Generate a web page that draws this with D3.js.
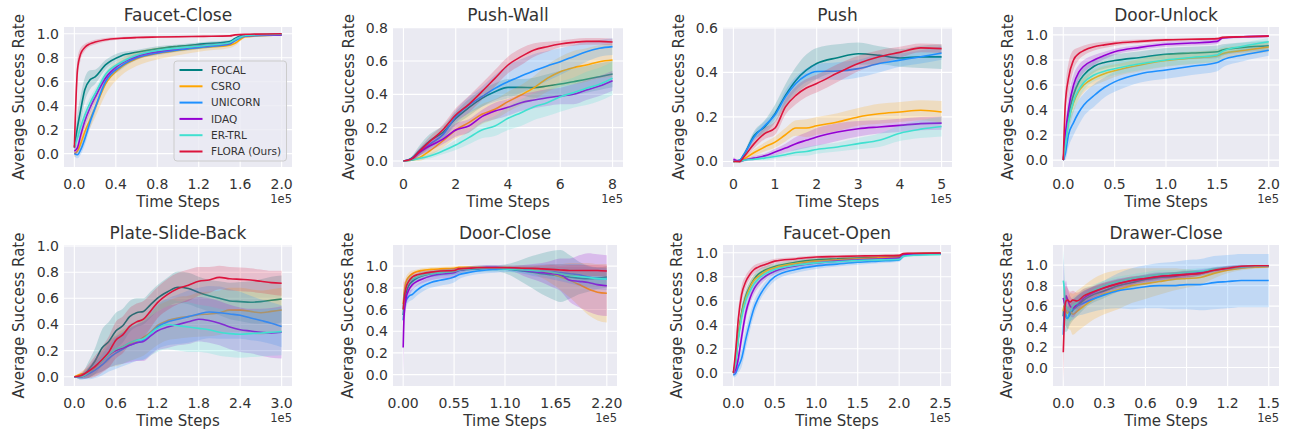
<!DOCTYPE html>
<html>
<head>
<meta charset="utf-8">
<script src="https://cdnjs.cloudflare.com/ajax/libs/d3/7.8.5/d3.min.js"></script>
<style>
  html, body { margin: 0; padding: 0; background: #fff; }
  svg { display: block; font-family: "DejaVu Sans", sans-serif; }
  text { fill: #333333; }
</style>
</head>
<body>
<svg id="chart" width="1293" height="432"></svg>
<script>
// methods and their colours
var methods = ["FOCAL", "CSRO", "UNICORN", "IDAQ", "ER-TRL", "FLORA (Ours)"];
var colors = ["#008080", "#FFA500", "#1E90FF", "#9400D3", "#40E0D0", "#DC143C"];

// Faucet-Close (x in 1e5 steps); rows follow `methods`
var fcX = [0, 0.03, 0.06, 0.1, 0.15, 0.2, 0.3, 0.45, 0.6, 0.8, 1.0, 1.25, 1.5, 1.55, 1.65, 2.0];
var fcMean = [
  [0.05, 0.22, 0.36, 0.53, 0.615, 0.64, 0.74, 0.815, 0.845, 0.875, 0.895, 0.915, 0.935, 0.96, 0.99, 0.995],
  [0.0, 0.02, 0.08, 0.18, 0.28, 0.38, 0.58, 0.72, 0.79, 0.835, 0.86, 0.885, 0.905, 0.92, 0.975, 0.99],
  [0.0, -0.01, 0.03, 0.12, 0.26, 0.38, 0.6, 0.73, 0.8, 0.84, 0.865, 0.89, 0.915, 0.94, 0.98, 0.99],
  [0.02, 0.05, 0.15, 0.27, 0.38, 0.47, 0.63, 0.75, 0.81, 0.85, 0.875, 0.9, 0.92, 0.95, 0.985, 0.99],
  [0.06, 0.13, 0.22, 0.32, 0.42, 0.5, 0.66, 0.76, 0.82, 0.86, 0.88, 0.9, 0.925, 0.95, 0.985, 0.995],
  [0.05, 0.7, 0.83, 0.885, 0.915, 0.93, 0.95, 0.962, 0.968, 0.972, 0.975, 0.978, 0.982, 0.99, 0.995, 1.0]
];
var fcStd = [
  [0.05, 0.12, 0.12, 0.1, 0.08, 0.06, 0.04, 0.03, 0.02, 0.02, 0.015, 0.015, 0.012, 0.01, 0.008, 0.005],
  [0.03, 0.03, 0.05, 0.06, 0.07, 0.08, 0.09, 0.07, 0.06, 0.05, 0.04, 0.03, 0.025, 0.02, 0.01, 0.008],
  [0.02, 0.03, 0.04, 0.05, 0.05, 0.04, 0.03, 0.03, 0.02, 0.02, 0.015, 0.015, 0.012, 0.01, 0.01, 0.008],
  [0.03, 0.04, 0.05, 0.05, 0.05, 0.04, 0.03, 0.025, 0.02, 0.02, 0.015, 0.015, 0.012, 0.01, 0.01, 0.008],
  [0.04, 0.05, 0.06, 0.06, 0.05, 0.04, 0.03, 0.025, 0.02, 0.02, 0.015, 0.015, 0.012, 0.01, 0.01, 0.008],
  [0.1, 0.1, 0.05, 0.03, 0.02, 0.02, 0.015, 0.01, 0.01, 0.008, 0.008, 0.006, 0.005, 0.005, 0.004, 0.003]
];

// Push-Wall
var pwX = [0, 0.3, 0.6, 1.0, 1.5, 2, 2.5, 3, 3.5, 4, 4.5, 5, 5.5, 6, 6.5, 7, 7.5, 8];
var pwMean = [
  [0, 0.015, 0.06, 0.12, 0.17, 0.255, 0.32, 0.376, 0.416, 0.442, 0.442, 0.44, 0.45, 0.462, 0.476, 0.49, 0.506, 0.522],
  [0, 0.005, 0.02, 0.06, 0.12, 0.186, 0.23, 0.28, 0.31, 0.356, 0.396, 0.44, 0.496, 0.536, 0.56, 0.576, 0.596, 0.606],
  [0, 0.01, 0.05, 0.1, 0.156, 0.266, 0.336, 0.386, 0.436, 0.476, 0.51, 0.542, 0.57, 0.596, 0.626, 0.656, 0.676, 0.686],
  [0, 0.01, 0.05, 0.09, 0.13, 0.186, 0.21, 0.266, 0.3, 0.322, 0.35, 0.366, 0.38, 0.39, 0.4, 0.426, 0.45, 0.482],
  [0, 0.005, 0.015, 0.03, 0.06, 0.096, 0.14, 0.186, 0.21, 0.256, 0.29, 0.326, 0.35, 0.386, 0.41, 0.436, 0.46, 0.496],
  [0, 0.01, 0.056, 0.116, 0.186, 0.276, 0.34, 0.416, 0.496, 0.576, 0.626, 0.666, 0.686, 0.702, 0.712, 0.718, 0.718, 0.714]
];
var pwStd = [
  [0, 0.01, 0.03, 0.04, 0.04, 0.04, 0.05, 0.05, 0.05, 0.05, 0.05, 0.06, 0.07, 0.08, 0.08, 0.08, 0.08, 0.08],
  [0, 0.005, 0.02, 0.03, 0.04, 0.05, 0.06, 0.06, 0.06, 0.06, 0.06, 0.07, 0.08, 0.09, 0.1, 0.1, 0.1, 0.1],
  [0, 0.01, 0.02, 0.03, 0.03, 0.04, 0.05, 0.06, 0.08, 0.1, 0.1, 0.1, 0.09, 0.08, 0.07, 0.06, 0.05, 0.05],
  [0, 0.01, 0.02, 0.03, 0.03, 0.04, 0.04, 0.04, 0.05, 0.05, 0.05, 0.05, 0.05, 0.05, 0.06, 0.06, 0.06, 0.06],
  [0, 0.005, 0.01, 0.015, 0.02, 0.03, 0.04, 0.05, 0.06, 0.07, 0.08, 0.08, 0.08, 0.09, 0.09, 0.1, 0.1, 0.1],
  [0, 0.01, 0.02, 0.03, 0.03, 0.04, 0.05, 0.05, 0.05, 0.05, 0.05, 0.04, 0.03, 0.02, 0.02, 0.02, 0.02, 0.02]
];

// Push
var puX = [0, 0.15, 0.25, 0.5, 0.75, 1.0, 1.25, 1.5, 1.75, 2, 2.5, 3, 3.5, 4, 4.5, 5];
var puMean = [
  [0, 0.005, 0.03, 0.117, 0.155, 0.215, 0.297, 0.364, 0.41, 0.44, 0.466, 0.484, 0.477, 0.465, 0.47, 0.47],
  [0, 0, 0.01, 0.04, 0.065, 0.087, 0.12, 0.15, 0.15, 0.16, 0.177, 0.2, 0.214, 0.222, 0.23, 0.222],
  [0, 0.005, 0.03, 0.11, 0.16, 0.21, 0.29, 0.35, 0.387, 0.404, 0.406, 0.417, 0.44, 0.455, 0.47, 0.487],
  [0.01, 0, 0.005, 0.015, 0.025, 0.042, 0.06, 0.08, 0.095, 0.11, 0.132, 0.147, 0.155, 0.162, 0.17, 0.172],
  [0, 0, 0.005, 0.01, 0.015, 0.022, 0.03, 0.04, 0.045, 0.054, 0.065, 0.08, 0.095, 0.127, 0.145, 0.157],
  [0, 0, 0.02, 0.08, 0.125, 0.15, 0.245, 0.297, 0.33, 0.35, 0.397, 0.44, 0.47, 0.49, 0.51, 0.507]
];
var puStd = [
  [0, 0.005, 0.01, 0.02, 0.03, 0.04, 0.05, 0.06, 0.07, 0.07, 0.06, 0.05, 0.04, 0.04, 0.05, 0.055],
  [0, 0.005, 0.01, 0.015, 0.02, 0.025, 0.03, 0.035, 0.04, 0.04, 0.04, 0.04, 0.045, 0.045, 0.045, 0.05],
  [0, 0.005, 0.01, 0.02, 0.02, 0.02, 0.03, 0.03, 0.03, 0.035, 0.04, 0.04, 0.04, 0.03, 0.03, 0.03],
  [0.01, 0.005, 0.005, 0.01, 0.01, 0.015, 0.02, 0.03, 0.035, 0.04, 0.04, 0.035, 0.03, 0.03, 0.03, 0.03],
  [0, 0, 0.005, 0.005, 0.01, 0.01, 0.01, 0.015, 0.02, 0.02, 0.02, 0.025, 0.03, 0.035, 0.04, 0.045],
  [0, 0.005, 0.01, 0.02, 0.025, 0.03, 0.035, 0.04, 0.04, 0.04, 0.04, 0.035, 0.03, 0.025, 0.02, 0.02]
];

// Door-Unlock
var duX = [0, 0.02, 0.05, 0.1, 0.15, 0.2, 0.3, 0.4, 0.5, 0.75, 1.0, 1.25, 1.5, 1.55, 1.75, 2.0];
var duMean = [
  [0, 0.15, 0.35, 0.52, 0.62, 0.68, 0.75, 0.78, 0.795, 0.82, 0.845, 0.855, 0.865, 0.88, 0.9, 0.913],
  [0, 0.12, 0.3, 0.46, 0.55, 0.6, 0.655, 0.69, 0.714, 0.76, 0.795, 0.815, 0.833, 0.85, 0.875, 0.903],
  [0, 0.05, 0.2, 0.3, 0.38, 0.44, 0.516, 0.58, 0.625, 0.69, 0.72, 0.75, 0.78, 0.8, 0.84, 0.878],
  [0, 0.2, 0.4, 0.6, 0.7, 0.75, 0.8, 0.835, 0.865, 0.9, 0.925, 0.935, 0.948, 0.975, 0.985, 0.99],
  [0, 0.12, 0.3, 0.47, 0.56, 0.62, 0.68, 0.71, 0.73, 0.77, 0.8, 0.82, 0.84, 0.87, 0.91, 0.945],
  [0, 0.45, 0.65, 0.8, 0.85, 0.875, 0.905, 0.92, 0.932, 0.948, 0.96, 0.965, 0.97, 0.98, 0.985, 0.99]
];
var duStd = [
  [0, 0.05, 0.08, 0.08, 0.07, 0.06, 0.05, 0.05, 0.05, 0.05, 0.05, 0.05, 0.05, 0.045, 0.04, 0.04],
  [0, 0.05, 0.08, 0.08, 0.07, 0.06, 0.06, 0.06, 0.05, 0.05, 0.05, 0.05, 0.05, 0.045, 0.04, 0.04],
  [0, 0.05, 0.1, 0.1, 0.1, 0.09, 0.09, 0.08, 0.08, 0.07, 0.07, 0.07, 0.07, 0.06, 0.05, 0.045],
  [0, 0.08, 0.1, 0.08, 0.06, 0.05, 0.04, 0.03, 0.025, 0.02, 0.02, 0.02, 0.02, 0.01, 0.01, 0.01],
  [0, 0.05, 0.08, 0.08, 0.07, 0.06, 0.05, 0.05, 0.05, 0.05, 0.05, 0.05, 0.05, 0.04, 0.03, 0.03],
  [0, 0.1, 0.12, 0.08, 0.05, 0.04, 0.03, 0.025, 0.02, 0.015, 0.012, 0.01, 0.01, 0.008, 0.006, 0.005]
];

// Plate-Slide-Back
var psX = [0, 0.1, 0.2, 0.3, 0.4, 0.5, 0.6, 0.7, 0.8, 0.9, 1.0, 1.1, 1.2, 1.35, 1.5, 1.65, 1.8, 1.95, 2.1, 2.25, 2.4, 2.55, 2.7, 2.85, 3.0];
var psMean = [
  [0, 0, 0.05, 0.12, 0.22, 0.27, 0.35, 0.39, 0.46, 0.49, 0.5, 0.55, 0.6, 0.65, 0.685, 0.675, 0.645, 0.62, 0.6, 0.58, 0.575, 0.57, 0.575, 0.585, 0.595],
  [0, 0.02, 0.03, 0.07, 0.12, 0.17, 0.2, 0.23, 0.25, 0.27, 0.3, 0.34, 0.39, 0.43, 0.45, 0.46, 0.475, 0.48, 0.49, 0.51, 0.51, 0.5, 0.49, 0.5, 0.51],
  [0, 0, 0.02, 0.05, 0.09, 0.14, 0.18, 0.21, 0.24, 0.26, 0.28, 0.33, 0.38, 0.42, 0.44, 0.46, 0.48, 0.495, 0.49, 0.48, 0.47, 0.45, 0.43, 0.41, 0.385],
  [0, 0, 0.03, 0.08, 0.12, 0.17, 0.2, 0.22, 0.24, 0.26, 0.27, 0.31, 0.35, 0.38, 0.4, 0.42, 0.44, 0.43, 0.41, 0.38, 0.36, 0.35, 0.34, 0.335, 0.34],
  [0, 0, 0.03, 0.08, 0.12, 0.17, 0.21, 0.23, 0.26, 0.28, 0.29, 0.33, 0.37, 0.4, 0.39, 0.38, 0.37, 0.36, 0.34, 0.33, 0.325, 0.33, 0.335, 0.34, 0.345],
  [0, 0.01, 0.04, 0.08, 0.13, 0.19, 0.28, 0.32, 0.385, 0.42, 0.44, 0.5, 0.565, 0.63, 0.675, 0.7, 0.73, 0.74, 0.76, 0.75, 0.745, 0.74, 0.73, 0.72, 0.715]
];
var psStd = [
  [0, 0.02, 0.06, 0.1, 0.14, 0.15, 0.14, 0.13, 0.12, 0.11, 0.1, 0.1, 0.1, 0.11, 0.12, 0.12, 0.12, 0.12, 0.13, 0.14, 0.15, 0.16, 0.17, 0.18, 0.18],
  [0, 0.02, 0.04, 0.06, 0.08, 0.1, 0.12, 0.13, 0.13, 0.13, 0.14, 0.14, 0.15, 0.15, 0.16, 0.16, 0.17, 0.17, 0.17, 0.17, 0.17, 0.17, 0.17, 0.17, 0.17],
  [0, 0.02, 0.04, 0.06, 0.08, 0.1, 0.12, 0.13, 0.14, 0.14, 0.15, 0.16, 0.17, 0.18, 0.19, 0.2, 0.2, 0.2, 0.2, 0.19, 0.18, 0.17, 0.16, 0.16, 0.16],
  [0, 0.02, 0.04, 0.06, 0.08, 0.1, 0.11, 0.12, 0.13, 0.14, 0.15, 0.15, 0.15, 0.16, 0.16, 0.17, 0.17, 0.17, 0.17, 0.17, 0.17, 0.17, 0.18, 0.19, 0.2],
  [0, 0.02, 0.04, 0.06, 0.08, 0.1, 0.12, 0.13, 0.14, 0.15, 0.16, 0.17, 0.18, 0.19, 0.19, 0.19, 0.18, 0.18, 0.18, 0.18, 0.18, 0.18, 0.18, 0.18, 0.18],
  [0, 0.02, 0.05, 0.08, 0.1, 0.12, 0.14, 0.14, 0.14, 0.14, 0.14, 0.13, 0.12, 0.12, 0.12, 0.12, 0.11, 0.1, 0.09, 0.09, 0.09, 0.09, 0.09, 0.09, 0.095]
];

// Door-Close
var dcX = [0, 0.01, 0.03, 0.06, 0.1, 0.15, 0.2, 0.3, 0.4, 0.55, 0.6, 0.7, 0.8, 0.9, 1.0, 1.1, 1.2, 1.3, 1.4, 1.5, 1.6, 1.7, 1.8, 1.9, 2.0, 2.1, 2.2];
var dcMean = [
  [0.55, 0.65, 0.75, 0.82, 0.86, 0.89, 0.91, 0.93, 0.94, 0.95, 0.96, 0.97, 0.975, 0.98, 0.98, 0.975, 0.965, 0.955, 0.945, 0.93, 0.92, 0.91, 0.9, 0.89, 0.885, 0.89, 0.9],
  [0.65, 0.75, 0.85, 0.9, 0.93, 0.95, 0.96, 0.97, 0.975, 0.98, 0.99, 0.99, 0.99, 0.99, 0.99, 0.99, 0.985, 0.98, 0.97, 0.95, 0.93, 0.9, 0.87, 0.83, 0.79, 0.76, 0.75],
  [0.5, 0.6, 0.68, 0.72, 0.74, 0.78, 0.81, 0.85, 0.87, 0.9, 0.92, 0.94, 0.955, 0.965, 0.97, 0.975, 0.975, 0.97, 0.96, 0.955, 0.95, 0.94, 0.93, 0.92, 0.9, 0.885, 0.88],
  [0.25, 0.55, 0.7, 0.78, 0.83, 0.86, 0.88, 0.91, 0.925, 0.94, 0.96, 0.975, 0.985, 0.99, 0.99, 0.985, 0.975, 0.96, 0.95, 0.94, 0.93, 0.92, 0.87, 0.86, 0.85, 0.83, 0.82],
  [0.6, 0.72, 0.8, 0.86, 0.88, 0.9, 0.915, 0.93, 0.94, 0.95, 0.965, 0.975, 0.98, 0.98, 0.98, 0.975, 0.97, 0.965, 0.96, 0.955, 0.945, 0.93, 0.915, 0.905, 0.895, 0.885, 0.88],
  [0.6, 0.7, 0.8, 0.86, 0.9, 0.92, 0.93, 0.945, 0.955, 0.96, 0.975, 0.98, 0.985, 0.985, 0.985, 0.985, 0.985, 0.98, 0.98, 0.975, 0.97, 0.965, 0.96, 0.96, 0.96, 0.96, 0.955]
];
var dcStd = [
  [0.1, 0.1, 0.08, 0.06, 0.05, 0.04, 0.04, 0.03, 0.03, 0.03, 0.03, 0.03, 0.03, 0.03, 0.03, 0.04, 0.07, 0.11, 0.15, 0.19, 0.22, 0.24, 0.2, 0.15, 0.12, 0.1, 0.1],
  [0.1, 0.08, 0.05, 0.04, 0.03, 0.02, 0.02, 0.02, 0.02, 0.02, 0.01, 0.01, 0.01, 0.01, 0.01, 0.015, 0.02, 0.03, 0.04, 0.06, 0.09, 0.12, 0.16, 0.2, 0.24, 0.26, 0.27],
  [0.1, 0.08, 0.06, 0.05, 0.05, 0.05, 0.05, 0.05, 0.05, 0.05, 0.04, 0.03, 0.03, 0.03, 0.03, 0.03, 0.03, 0.04, 0.05, 0.06, 0.07, 0.08, 0.09, 0.1, 0.1, 0.1, 0.1],
  [0.3, 0.2, 0.1, 0.07, 0.05, 0.04, 0.04, 0.04, 0.04, 0.04, 0.03, 0.02, 0.02, 0.02, 0.02, 0.02, 0.03, 0.05, 0.07, 0.09, 0.12, 0.15, 0.2, 0.24, 0.27, 0.28, 0.28],
  [0.1, 0.08, 0.06, 0.05, 0.04, 0.03, 0.03, 0.03, 0.03, 0.03, 0.02, 0.02, 0.02, 0.02, 0.02, 0.02, 0.03, 0.03, 0.04, 0.04, 0.05, 0.05, 0.06, 0.06, 0.06, 0.06, 0.06],
  [0.3, 0.15, 0.08, 0.05, 0.04, 0.03, 0.03, 0.02, 0.02, 0.02, 0.02, 0.015, 0.01, 0.01, 0.01, 0.01, 0.015, 0.02, 0.02, 0.03, 0.04, 0.04, 0.05, 0.05, 0.05, 0.05, 0.05]
];

// Faucet-Open
var foX = [0, 0.03, 0.06, 0.1, 0.15, 0.2, 0.25, 0.3, 0.4, 0.5, 0.75, 1.0, 1.25, 1.5, 1.75, 2.0, 2.05, 2.1, 2.5];
var foMean = [
  [0, 0.1, 0.3, 0.5, 0.64, 0.72, 0.78, 0.82, 0.86, 0.885, 0.92, 0.94, 0.948, 0.955, 0.96, 0.965, 0.985, 0.99, 0.995],
  [0, 0.1, 0.3, 0.48, 0.62, 0.71, 0.77, 0.8, 0.85, 0.875, 0.91, 0.93, 0.94, 0.95, 0.957, 0.962, 0.985, 0.99, 0.995],
  [-0.02, 0, 0.05, 0.12, 0.28, 0.42, 0.54, 0.62, 0.73, 0.8, 0.86, 0.89, 0.905, 0.92, 0.93, 0.94, 0.97, 0.98, 0.99],
  [0, 0.03, 0.12, 0.3, 0.5, 0.62, 0.7, 0.75, 0.81, 0.845, 0.89, 0.915, 0.93, 0.94, 0.948, 0.955, 0.98, 0.985, 0.99],
  [0, 0.1, 0.28, 0.46, 0.6, 0.68, 0.74, 0.78, 0.83, 0.86, 0.895, 0.915, 0.925, 0.935, 0.94, 0.945, 0.97, 0.975, 0.985],
  [0, 0.2, 0.45, 0.65, 0.76, 0.82, 0.86, 0.88, 0.905, 0.93, 0.948, 0.964, 0.968, 0.972, 0.975, 0.978, 0.992, 0.995, 0.998]
];
var foStd = [
  [0.02, 0.05, 0.06, 0.06, 0.05, 0.045, 0.04, 0.035, 0.03, 0.025, 0.02, 0.02, 0.018, 0.016, 0.015, 0.015, 0.01, 0.01, 0.008],
  [0.02, 0.05, 0.06, 0.06, 0.05, 0.045, 0.04, 0.035, 0.03, 0.025, 0.02, 0.02, 0.018, 0.016, 0.015, 0.015, 0.01, 0.01, 0.008],
  [0.02, 0.03, 0.05, 0.07, 0.08, 0.07, 0.06, 0.05, 0.04, 0.035, 0.03, 0.025, 0.02, 0.02, 0.018, 0.016, 0.012, 0.01, 0.008],
  [0.02, 0.04, 0.06, 0.07, 0.06, 0.05, 0.045, 0.04, 0.03, 0.025, 0.02, 0.02, 0.018, 0.016, 0.015, 0.015, 0.01, 0.01, 0.008],
  [0.03, 0.06, 0.07, 0.07, 0.06, 0.05, 0.045, 0.04, 0.035, 0.03, 0.025, 0.02, 0.02, 0.018, 0.016, 0.015, 0.012, 0.01, 0.01],
  [0.02, 0.06, 0.08, 0.07, 0.05, 0.04, 0.035, 0.03, 0.025, 0.02, 0.015, 0.012, 0.01, 0.01, 0.01, 0.01, 0.008, 0.006, 0.005]
];

// Drawer-Close
var drX = [0, 0.005, 0.01, 0.02, 0.03, 0.05, 0.07, 0.1, 0.15, 0.2, 0.3, 0.4, 0.5, 0.6, 0.7, 0.8, 0.9, 1.0, 1.1, 1.2, 1.3, 1.4, 1.5];
var drMean = [
  [0.5, 0.6, 0.55, 0.5, 0.48, 0.52, 0.56, 0.6, 0.66, 0.7, 0.75, 0.8, 0.83, 0.86, 0.88, 0.89, 0.91, 0.92, 0.95, 0.97, 0.98, 0.99, 0.99],
  [0.55, 0.6, 0.58, 0.55, 0.53, 0.55, 0.52, 0.55, 0.6, 0.65, 0.72, 0.76, 0.8, 0.82, 0.84, 0.86, 0.87, 0.88, 0.92, 0.95, 0.97, 0.98, 0.985],
  [0.32, 0.5, 0.55, 0.5, 0.48, 0.55, 0.57, 0.6, 0.63, 0.66, 0.71, 0.75, 0.77, 0.79, 0.8, 0.8, 0.81, 0.81, 0.83, 0.84, 0.85, 0.85, 0.85],
  [0.68, 0.65, 0.62, 0.7, 0.67, 0.6, 0.58, 0.62, 0.68, 0.72, 0.78, 0.82, 0.85, 0.87, 0.89, 0.9, 0.91, 0.93, 0.955, 0.975, 0.985, 0.99, 0.99],
  [0.85, 0.8, 0.7, 0.6, 0.58, 0.55, 0.6, 0.63, 0.7, 0.74, 0.8, 0.84, 0.87, 0.89, 0.91, 0.92, 0.93, 0.94, 0.96, 0.975, 0.985, 0.99, 0.99],
  [0.15, 0.35, 0.55, 0.65, 0.66, 0.64, 0.66, 0.65, 0.7, 0.73, 0.78, 0.82, 0.85, 0.87, 0.89, 0.9, 0.91, 0.92, 0.95, 0.97, 0.99, 0.995, 0.995]
];
var drStd = [
  [0.3, 0.25, 0.2, 0.15, 0.12, 0.1, 0.1, 0.1, 0.09, 0.08, 0.07, 0.06, 0.05, 0.05, 0.04, 0.04, 0.04, 0.03, 0.03, 0.02, 0.02, 0.01, 0.01],
  [0.2, 0.2, 0.15, 0.15, 0.15, 0.18, 0.2, 0.2, 0.2, 0.2, 0.2, 0.19, 0.17, 0.15, 0.13, 0.11, 0.09, 0.07, 0.05, 0.03, 0.02, 0.015, 0.01],
  [0.2, 0.15, 0.12, 0.1, 0.1, 0.1, 0.1, 0.1, 0.11, 0.12, 0.14, 0.17, 0.2, 0.21, 0.22, 0.23, 0.24, 0.25, 0.26, 0.26, 0.26, 0.26, 0.26],
  [0.4, 0.3, 0.2, 0.15, 0.12, 0.1, 0.09, 0.08, 0.07, 0.06, 0.05, 0.05, 0.04, 0.04, 0.04, 0.03, 0.03, 0.03, 0.02, 0.02, 0.02, 0.01, 0.01],
  [0.3, 0.25, 0.2, 0.15, 0.12, 0.1, 0.09, 0.08, 0.07, 0.06, 0.05, 0.05, 0.04, 0.04, 0.04, 0.03, 0.03, 0.03, 0.02, 0.02, 0.02, 0.01, 0.01],
  [0.3, 0.25, 0.2, 0.15, 0.12, 0.1, 0.09, 0.08, 0.07, 0.06, 0.05, 0.04, 0.04, 0.03, 0.03, 0.03, 0.03, 0.02, 0.02, 0.02, 0.01, 0.01, 0.01]
];

var unitY = [0, 0.2, 0.4, 0.6, 0.8, 1.0];

// panel table built from the arrays above
var panels = [
  {title: "Faucet-Close", x: fcX, mean: fcMean, std: fcStd, xDom: [-0.1, 2.1], yDom: [-0.112, 1.056],
   xTicks: [0, 0.4, 0.8, 1.2, 1.6, 2.0], xFmt: ".1f", yTicks: unitY, legend: true},
  {title: "Push-Wall", x: pwX, mean: pwMean, std: pwStd, xDom: [-0.4, 8.4], yDom: [-0.036, 0.804],
   xTicks: [0, 2, 4, 6, 8], xFmt: "d", yTicks: [0, 0.2, 0.4, 0.6, 0.8]},
  {title: "Push", x: puX, mean: puMean, std: puStd, xDom: [-0.25, 5.25], yDom: [-0.025, 0.604],
   xTicks: [0, 1, 2, 3, 4, 5], xFmt: "d", yTicks: [0, 0.2, 0.4, 0.6]},
  {title: "Door-Unlock", x: duX, mean: duMean, std: duStd, xDom: [-0.1, 2.1], yDom: [-0.055, 1.063],
   xTicks: [0, 0.5, 1.0, 1.5, 2.0], xFmt: ".1f", yTicks: unitY},
  {title: "Plate-Slide-Back", x: psX, mean: psMean, std: psStd, xDom: [-0.15, 3.15], yDom: [-0.071, 1.008],
   xTicks: [0, 0.6, 1.2, 1.8, 2.4, 3.0], xFmt: ".1f", yTicks: unitY},
  {title: "Door-Close", x: dcX, mean: dcMean, std: dcStd, xDom: [-0.11, 2.31], yDom: [-0.105, 1.195],
   xTicks: [0, 0.55, 1.1, 1.65, 2.2], xFmt: ".2f", yTicks: unitY},
  {title: "Faucet-Open", x: foX, mean: foMean, std: foStd, xDom: [-0.125, 2.625], yDom: [-0.11, 1.064],
   xTicks: [0, 0.5, 1.0, 1.5, 2.0, 2.5], xFmt: ".1f", yTicks: unitY},
  {title: "Drawer-Close", x: drX, mean: drMean, std: drStd, xDom: [-0.075, 1.575], yDom: [-0.18, 1.197],
   xTicks: [0, 0.3, 0.6, 0.9, 1.2, 1.5], xFmt: ".1f", yTicks: unitY}
];

// plot boxes (pixels) and y-label centres
var boxes = [
  {l: 64, r: 292, t: 27, b: 167, lab: 18},
  {l: 393, r: 623, t: 27, b: 167, lab: 348},
  {l: 723, r: 952, t: 27, b: 167, lab: 678},
  {l: 1053, r: 1279, t: 27, b: 167, lab: 1007},
  {l: 64, r: 292, t: 245, b: 386, lab: 18},
  {l: 393, r: 617, t: 245, b: 386, lab: 347},
  {l: 723, r: 951, t: 245, b: 386, lab: 676},
  {l: 1053, r: 1279, t: 245, b: 386, lab: 1006}
];

var svg = d3.select("#chart");

panels.forEach(function(p, k) {
  var box = boxes[k];
  var xs = d3.scaleLinear().domain(p.xDom).range([box.l, box.r]);
  var ys = d3.scaleLinear().domain(p.yDom).range([box.b, box.t]);
  var g = svg.append("g").attr("class", "panel");

  g.append("rect")
      .attr("x", box.l).attr("y", box.t)
      .attr("width", box.r - box.l).attr("height", box.b - box.t)
      .attr("fill", "#EAEAF2");

  // grid
  g.selectAll(".gx").data(p.xTicks).enter().append("line")
      .attr("x1", function(d) { return xs(d); }).attr("x2", function(d) { return xs(d); })
      .attr("y1", box.t).attr("y2", box.b)
      .attr("stroke", "#fff").attr("stroke-width", 1.1);
  g.selectAll(".gy").data(p.yTicks).enter().append("line")
      .attr("y1", function(d) { return ys(d); }).attr("y2", function(d) { return ys(d); })
      .attr("x1", box.l).attr("x2", box.r)
      .attr("stroke", "#fff").attr("stroke-width", 1.1);

  // tick labels
  var xf = d3.format(p.xFmt);
  g.selectAll(".tx").data(p.xTicks).enter().append("text")
      .attr("x", function(d) { return xs(d); })
      .attr("y", box.b + 22)
      .attr("text-anchor", "middle")
      .style("font-size", "14px")
      .text(function(d) { return xf(d); });
  g.selectAll(".ty").data(p.yTicks).enter().append("text")
      .attr("x", box.l - 5)
      .attr("y", function(d) { return ys(d); })
      .attr("dy", "0.36em")
      .attr("text-anchor", "end")
      .style("font-size", "14px")
      .text(function(d) { return d3.format(".1f")(d); });

  // labels
  g.append("text")
      .attr("x", (box.l + box.r) / 2).attr("y", box.t - 6)
      .attr("text-anchor", "middle")
      .style("font-size", "17px")
      .text(p.title);
  g.append("text")
      .attr("x", (box.l + box.r) / 2).attr("y", box.b + 40)
      .attr("text-anchor", "middle")
      .style("font-size", "15px")
      .text("Time Steps");
  g.append("text")
      .attr("x", box.r).attr("y", box.b + 36)
      .attr("text-anchor", "end")
      .style("font-size", "11.5px")
      .text("1e5");
  g.append("text")
      .attr("transform", "translate(" + (box.lab + 5.5) + "," + ((box.t + box.b) / 2) + ")rotate(-90)")
      .attr("text-anchor", "middle")
      .style("font-size", "15px")
      .text("Average Success Rate");

  // curves
  var clipId = "clip" + k;
  g.append("clipPath").attr("id", clipId).append("rect")
      .attr("x", box.l).attr("y", box.t)
      .attr("width", box.r - box.l).attr("height", box.b - box.t);
  var plot = g.append("g").attr("clip-path", "url(#" + clipId + ")");

  methods.forEach(function(m, i) {
    var pts = p.x.map(function(x, j) {
      return {x: x, m: p.mean[i][j], s: p.std[i][j]};
    });
    var area = d3.area()
        .x(function(d) { return xs(d.x); })
        .y0(function(d) { return ys(d.m - d.s); })
        .y1(function(d) { return ys(d.m + d.s); })
        .curve(d3.curveMonotoneX);
    var line = d3.line()
        .x(function(d) { return xs(d.x); })
        .y(function(d) { return ys(d.m); })
        .curve(d3.curveMonotoneX);
    plot.append("path").datum(pts)
        .attr("d", area)
        .attr("fill", colors[i])
        .attr("fill-opacity", 0.2);
    plot.append("path").datum(pts)
        .attr("d", line)
        .attr("fill", "none")
        .attr("stroke", colors[i])
        .attr("stroke-width", 1.6);
  });

  // legend
  if (p.legend) {
    var lg = g.append("g").attr("transform", "translate(174,61)");
    lg.append("rect")
        .attr("width", 112.5).attr("height", 100)
        .attr("rx", 3)
        .attr("fill", "#EAEAF2").attr("fill-opacity", 0.8)
        .attr("stroke", "#cccccc").attr("stroke-width", 1);
    methods.forEach(function(m, i) {
      var yy = 9 + i * 16.3;
      lg.append("line")
          .attr("x1", 5.5).attr("x2", 28.5)
          .attr("y1", yy).attr("y2", yy)
          .attr("stroke", colors[i]).attr("stroke-width", 2);
      lg.append("text")
          .attr("x", 37).attr("y", yy).attr("dy", "0.36em")
          .style("font-size", "10.5px")
          .text(m);
    });
  }
});
</script>
</body>
</html>
